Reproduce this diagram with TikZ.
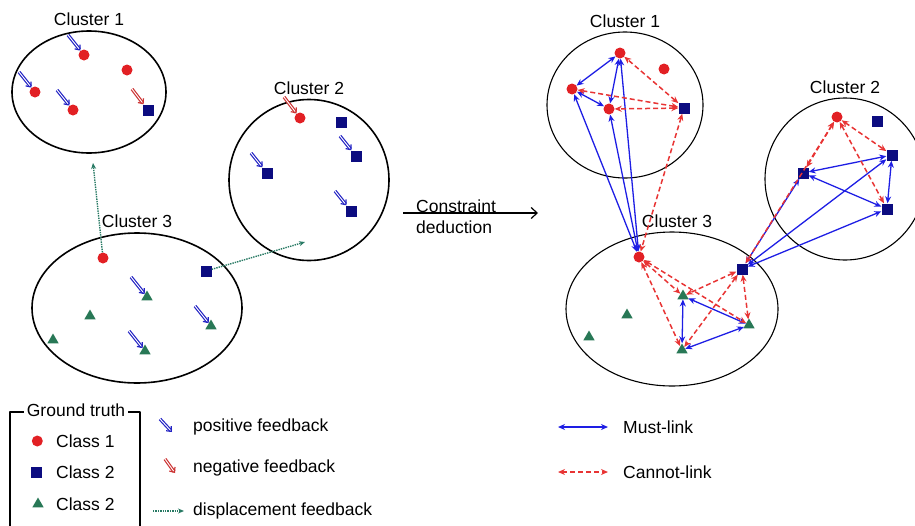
\documentclass[tikz,border=0pt]{standalone}
\usepackage{fontspec}
\setmainfont{Liberation Sans}
\usetikzlibrary{arrows.meta,positioning,shapes.geometric}
\definecolor{dotred}{RGB}{226,32,36}
\definecolor{dotblue}{RGB}{12,12,128}
\definecolor{dotgreen}{RGB}{40,120,86}
\definecolor{fbblue}{RGB}{36,36,196}
\definecolor{fbred}{RGB}{204,52,52}
\definecolor{dispgreen}{RGB}{40,122,100}
\definecolor{mustblue}{RGB}{30,30,228}
\definecolor{cannotred}{RGB}{232,52,52}
\begin{document}
\begin{tikzpicture}[x=1pt,y=-1pt, line join=round,
    lbl/.style={font=\fontsize{17.5}{21}\selectfont, inner sep=1pt},
    clus/.style={draw, ellipse, line width=1.6pt, inner sep=0pt},
    rclus/.style={clus, line width=1.1pt},
    cls1/.style={circle, fill=dotred, minimum size=11pt, inner sep=0pt},
    cls2/.style={rectangle, fill=dotblue, minimum size=11pt, inner sep=0pt},
    cls3/.style={regular polygon, regular polygon sides=3, fill=dotgreen, minimum size=13pt, inner sep=0pt},
    posfb/.style={draw=fbblue, double=white, double distance=0.9pt, line width=1.2pt, -{Straight Barb[length=4pt,width=7pt]}},
    negfb/.style={posfb, draw=fbred},
    disp/.style={draw=dispgreen, densely dotted, line width=1.4pt, -{Stealth[length=6pt,width=5pt]}},
    must/.style={draw=mustblue, line width=1.3pt, {Stealth[length=7pt,width=6pt]}-{Stealth[length=7pt,width=6pt]}},
    cannot/.style={draw=cannotred, line width=1.5pt, dash pattern=on 5pt off 3pt, {Stealth[length=7pt,width=6pt]}-{Stealth[length=7pt,width=6pt]}}]
  \clip (0,0) rectangle (915,525);

  % left: clusters after feedback
  \node[clus, minimum width=154, minimum height=122] (lc1) at (89,92) {};
  \node[clus, minimum width=160, minimum height=161] (lc2) at (309,180) {};
  \node[clus, minimum width=210, minimum height=150] (lc3) at (137,308) {};
  \node[lbl, above=3pt of lc1] {Cluster 1};
  \node[lbl, above=3pt of lc2] {Cluster 2};
  \node[lbl, above=3pt of lc3] {Cluster 3};

  \node[cls1] (l1a) at (84,55) {};
  \node[cls1] (l1b) at (127,70) {};
  \node[cls1] (l1c) at (35,92) {};
  \node[cls1] (l1d) at (73,110) {};
  \node[cls2] (l1s) at (148,110) {};
  \node[cls1] (l2r) at (300,118) {};
  \node[cls2] (l2a) at (341,122) {};
  \node[cls2] (l2b) at (356,156) {};
  \node[cls2] (l2c) at (267,173) {};
  \node[cls2] (l2d) at (351,211) {};
  \node[cls1] (l3r) at (103,258) {};
  \node[cls2] (l3s) at (206,271) {};
  \node[cls3] (l3a) at (147,297) {};
  \node[cls3] (l3b) at (90,316) {};
  \node[cls3] (l3c) at (53,340) {};
  \node[cls3] (l3d) at (211,326) {};
  \node[cls3] (l3e) at (145,351) {};

  \foreach \n in {l1a,l1c,l1d,l2b,l2c,l2d,l3a,l3d,l3e}
    \draw[posfb] ([shift={(-16,-20)}]\n.center) -- (\n);
  \foreach \n in {l1s,l2r}
    \draw[negfb] ([shift={(-16,-21)}]\n.center) -- (\n);

  \coordinate (d1) at (93,163);
  \coordinate (d2) at (305,242);
  \draw[disp] (l3r) -- (d1);
  \draw[disp] (l3s) -- (d2);

  % legend, left
  \draw[line width=1.6pt] (10,540) |- (140,412) -- (140,540);
  \node[lbl, fill=white, inner xsep=3pt] (gt) at (76,410) {Ground truth};
  \node[lbl, anchor=west] (k1) at (55,441) {Class 1};
  \node[lbl, anchor=west] (k2) at (55,472) {Class 2};
  \node[lbl, anchor=west] (k3) at (55,504) {Class 2};
  \node[cls1, left=12pt of k1] {};
  \node[cls2, left=13pt of k2] {};
  \node[cls3, left=13pt of k3] {};

  \node[lbl, anchor=west] (pf) at (192,427) {positive feedback};
  \node[lbl, anchor=west] (nf) at (192,468) {negative feedback};
  \node[lbl, anchor=west] (df) at (192,511) {displacement feedback};
  \draw[posfb] ([shift={(-32,-8)}]pf.west) -- ([shift={(-20,5)}]pf.west);
  \draw[negfb] ([shift={(-27,-9)}]nf.west) -- ([shift={(-17,5)}]nf.west);
  \draw[disp] ([xshift=-39]df.west) -- ([xshift=-8]df.west);

  % constraint deduction
  \node[lbl, align=left, anchor=west] (cd) at (415,217) {Constraint\\deduction};
  \coordinate (ca) at (403,213);
  \coordinate (cb) at (538,213);
  \draw[line width=1.2pt, -{Straight Barb[length=6pt,width=11pt]}] (ca) -- (cb);

  % right: deduced constraints
  \node[rclus, minimum width=156, minimum height=146] (rc1) at (625,105) {};
  \node[rclus, minimum width=160, minimum height=162] (rc2) at (845,179) {};
  \node[rclus, minimum width=212, minimum height=154] (rc3) at (672,309) {};
  \node[lbl, above=3pt of rc1] {Cluster 1};
  \node[lbl, above=3pt of rc2] {Cluster 2};
  \node[lbl, above=3pt of rc3, xshift=5pt] {Cluster 3};

  \node[cls1] (r1a) at (620,53) {};
  \node[cls1] (r1b) at (664,69) {};
  \node[cls1] (r1c) at (572,89) {};
  \node[cls1] (r1d) at (609,109) {};
  \node[cls2] (r1s) at (684,108) {};
  \node[cls1] (r2r) at (837,117) {};
  \node[cls2] (r2a) at (877,121) {};
  \node[cls2] (r2b) at (892,155) {};
  \node[cls2] (r2c) at (803,173) {};
  \node[cls2] (r2d) at (887,209) {};
  \node[cls1] (r3r) at (639,257) {};
  \node[cls2] (r3s) at (742,269) {};
  \node[cls3] (r3a) at (683,296) {};
  \node[cls3] (r3b) at (627,315) {};
  \node[cls3] (r3c) at (589,337) {};
  \node[cls3] (r3d) at (749,325) {};
  \node[cls3] (r3e) at (682,350) {};

  \foreach \a/\b in {r1a/r1c,r1c/r1d,r1d/r1a,r3r/r1a,r3r/r1c,r3r/r1d,
                     r2c/r2b,r2c/r2d,r2b/r2d,r3s/r2c,r3s/r2b,r3s/r2d,
                     r3a/r3e,r3a/r3d,r3e/r3d}
    \draw[must] (\a) -- (\b);
  \foreach \a/\b in {r1s/r1a,r1s/r1c,r1s/r1d,r1s/r3r,
                     r2r/r2c,r2r/r2b,r2r/r2d,r2r/r3s,
                     r3r/r3a,r3r/r3d,r3r/r3e,r3s/r3a,r3s/r3d,r3s/r3e}
    \draw[cannot] (\a) -- (\b);

  % legend, right
  \node[lbl, anchor=west] (ml) at (622,427) {Must-link};
  \node[lbl, anchor=west] (cl) at (622,472) {Cannot-link};
  \draw[must] ([xshift=-64]ml.west) -- ([xshift=-14]ml.west);
  \draw[cannot] ([xshift=-64]cl.west) -- ([xshift=-14]cl.west);
\end{tikzpicture}
\end{document}
